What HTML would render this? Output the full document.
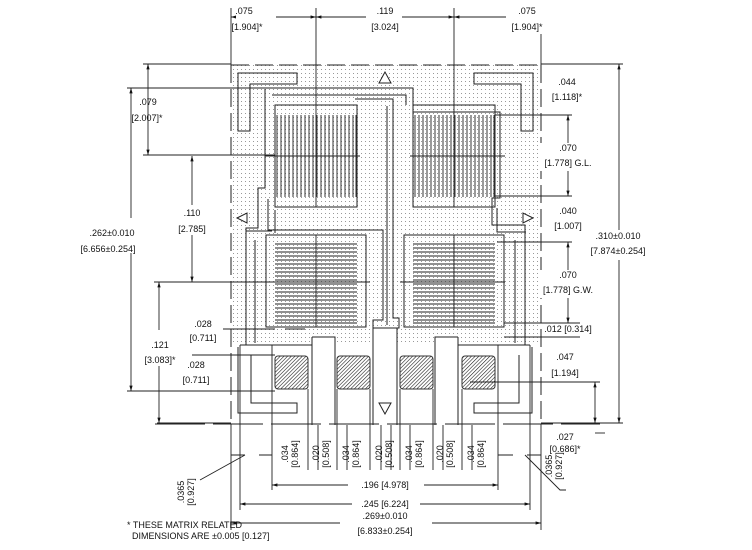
<!DOCTYPE html>
<html><head><meta charset="utf-8"><style>
html,body{margin:0;padding:0;background:#fff}
svg{display:block}
text{font-family:"Liberation Sans",sans-serif;font-size:9px;fill:#111}
</style></head><body>
<svg width="752" height="550" viewBox="0 0 752 550" xmlns="http://www.w3.org/2000/svg">
<defs>
<pattern id="dots" width="4" height="4" patternUnits="userSpaceOnUse"><rect x="1" y="1" width="1" height="1" fill="#999"/></pattern>
<pattern id="hatch" width="2.6" height="2.6" patternUnits="userSpaceOnUse" patternTransform="rotate(45)"><line x1="0" y1="0" x2="0" y2="2.6" stroke="#111" stroke-width="1.1"/></pattern>
<marker id="a" viewBox="0 0 10 10" refX="10" refY="5" markerWidth="6" markerHeight="6" orient="auto-start-reverse"><path d="M0,2 L10,5 L0,8 z" fill="#111"/></marker>
</defs>
<rect x="231" y="65" width="310" height="280" fill="url(#dots)"/>
<g fill="#fff">
<rect x="240" y="345" width="300" height="80"/>
<rect x="312" y="337" width="23" height="10"/>
<rect x="435" y="337" width="23" height="10"/>
<rect x="373" y="328" width="24" height="18"/>
</g>
<g fill="none" stroke="#222" stroke-width="1">
<path d="M312,337 V425 M335,345 V425 M373,328 V425 M397,328 V425 M435,345 V425 M458,337 V425 M312,337 H335 V345 M435,345 V337 H458 M373,328 H397 M240,345 H312 M458,345 H530"/>
<path d="M231,65 V424 M541,65 V424 M231,65 H541" stroke-dasharray="18,6"/>
<path d="M155,424 H600" stroke-dasharray="50,8"/>
<path d="M238,73 H297 V84 H250 V131 H238 Z"/>
<path d="M533,73 H474 V84 H521 V131 H533 Z"/>
<path d="M251,355 V403 H297 V413 H238 V347"/>
<path d="M519,355 V403 H474 V413 H532 V347"/>
<rect x="275" y="105" width="82" height="102"/>
<rect x="413" y="105" width="82" height="102"/>
<rect x="266" y="235" width="100" height="92"/>
<rect x="404" y="235" width="100" height="92"/>
<path d="M127,88 H413 V112 H500 V198 H492 V225 H525 V345"/>
<path d="M272,95 H406 V105"/>
<path d="M265,89 V188 H258 V228 H246 V345"/>
<path d="M268,199 V230 H383 V320 H373 V328"/>
<path d="M275,210 V233"/>
<path d="M355,99 H393 V318 H399 V328 H397"/>
<path d="M387,106 V325"/>
<path d="M255,240 V343"/>
<path d="M515,240 V343"/>
<path d="M497,208 V232 H526"/>
<path d="M246,231 H272"/>
</g>
<g stroke="#222" stroke-width="0.9">
<path d="M277,115V197M281,115V197M285,115V197M289,115V197M293,115V197M297,115V197M301,115V197M305,115V197M309,115V197M313,115V197M317,115V197M321,115V197M325,115V197M329,115V197M333,115V197M337,115V197M341,115V197M345,115V197M349,115V197M353,115V197M356,115V197"/>
<path d="M415,115V197M419,115V197M423,115V197M427,115V197M431,115V197M435,115V197M439,115V197M443,115V197M447,115V197M451,115V197M455,115V197M459,115V197M463,115V197M467,115V197M471,115V197M475,115V197M479,115V197M483,115V197M487,115V197M491,115V197M494,115V197"/>
<path d="M275,244H357M275,248H357M275,252H357M275,256H357M275,260H357M275,264H357M275,268H357M275,272H357M275,276H357M275,280H357M275,284H357M275,288H357M275,292H357M275,296H357M275,300H357M275,304H357M275,308H357M275,312H357M275,316H357M275,320H357M275,323H357"/>
<path d="M413,244H495M413,248H495M413,252H495M413,256H495M413,260H495M413,264H495M413,268H495M413,272H495M413,276H495M413,280H495M413,284H495M413,288H495M413,292H495M413,296H495M413,300H495M413,304H495M413,308H495M413,312H495M413,316H495M413,320H495M413,323H495"/>
</g>
<g fill="url(#hatch)" stroke="#333">
<rect x="275" y="356" width="33" height="33" rx="3"/>
<rect x="337" y="356" width="33" height="33" rx="3"/>
<rect x="400" y="356" width="33" height="33" rx="3"/>
<rect x="462" y="356" width="33" height="33" rx="3"/>
</g>
<g fill="#fff" stroke="#222">
<path d="M385,72 L379,83 H391 Z"/>
<path d="M385,414 L379,403 H391 Z"/>
<path d="M237,218 L247,213 V223 Z"/>
<path d="M533,218 L523,213 V223 Z"/>
</g>
<g stroke="#222" stroke-width="0.9" fill="none">
<path d="M316,8 V207 M454,8 V207 M316,235 V327 M454,235 V327"/>
<path d="M265,156 H360 M410,156 H505 M270,282 H370 M400,282 H505"/>
<path d="M231,8 V65 M541,8 V65"/>
<path d="M143,64 H231 M143,155 H275 M154,282 H270 M223,329 H275 M192,355 H275 M127,391 H275 M157,423 H231"/>
<path d="M541,64 H623 M495,115 H572 M495,196 H572 M497,242 H572 M504,323 H580 M504,337 H580 M470,382 H600 M541,423 H623"/>
<path d="M272,345 V470 M308,389 V470 M318,425 V470 M337,389 V470 M347,425 V470 M370,389 V470 M381,425 V470 M391,425 V470 M400,389 V470 M410,425 V470 M433,389 V470 M443,425 V470 M462,389 V470 M472,425 V470 M498,345 V470"/>
<path d="M240,345 V510 M231,424 V530 M530,345 V510 M541,424 V530 M272,470 V490 M498,470 V490"/>
</g>
<g stroke="#222" stroke-width="0.9" fill="none" marker-start="url(#a)" marker-end="url(#a)">
<path d="M231,17 H316"/><path d="M316,17 H454"/><path d="M454,17 H541"/>
<path d="M148,64 V155"/><path d="M131,88 V391"/><path d="M192,156 V282"/><path d="M159,282 V423"/>
<path d="M619,64 V423"/><path d="M568,115 V196"/><path d="M568,242 V323"/><path d="M595,382 V423"/>
<path d="M272,485 H498"/><path d="M240,504 H530"/><path d="M231,523 H541"/>
</g>
<g fill="#fff"><rect x="150" y="96" width="30" height="30"/><rect x="120" y="218" width="50" height="35"/><rect x="180" y="205" width="30" height="30"/><rect x="140" y="330" width="40" height="36"/>
<rect x="540" y="143" width="56" height="28"/><rect x="540" y="270" width="56" height="28"/><rect x="590" y="230" width="60" height="30"/>
<rect x="348" y="478" width="76" height="12"/><rect x="352" y="497" width="68" height="12"/><rect x="340" y="516" width="92" height="14"/>
<rect x="236" y="6" width="40" height="28"/><rect x="366" y="6" width="36" height="28"/><rect x="506" y="6" width="40" height="28"/></g>
<g stroke="#222" stroke-width="0.9" fill="none">
<path d="M231,455 H245 M259,455 H272 M498,455 H513 M527,455 H541"/>
<path d="M245,455 L200,480 M525,455 L560,490 H566"/>
<path d="M285,329 H305"/>
<path d="M605,433 H595"/>
</g>
<g text-anchor="middle">
<text x="244" y="14">.075</text><text x="247" y="30">[1.904]*</text>
<text x="385" y="14">.119</text><text x="385" y="30">[3.024]</text>
<text x="527" y="14">.075</text><text x="527" y="30">[1.904]*</text>
<text x="148" y="105">.079</text><text x="147" y="121">[2.007]*</text>
<text x="112" y="236">.262±0.010</text><text x="108" y="252">[6.656±0.254]</text>
<text x="192" y="216">.110</text><text x="192" y="232">[2.785]</text>
<text x="160" y="348">.121</text><text x="160" y="363">[3.083]*</text>
<text x="203" y="327">.028</text><text x="203" y="341">[0.711]</text>
<text x="196" y="368">.028</text><text x="196" y="383">[0.711]</text>
<text x="567" y="85">.044</text><text x="567" y="100">[1.118]*</text>
<text x="568" y="151">.070</text><text x="568" y="166">[1.778] G.L.</text>
<text x="568" y="214">.040</text><text x="568" y="229">[1.007]</text>
<text x="618" y="239">.310±0.010</text><text x="618" y="254">[7.874±0.254]</text>
<text x="568" y="278">.070</text><text x="568" y="293">[1.778] G.W.</text>
<text x="568" y="332">.012 [0.314]</text>
<text x="565" y="360">.047</text><text x="565" y="376">[1.194]</text>
<text x="565" y="440">.027</text><text x="565" y="452">[0.686]*</text>
<text x="385" y="488">.196 [4.978]</text>
<text x="385" y="507">.245 [6.224]</text>
<text x="385" y="519">.269±0.010</text>
<text x="385" y="534">[6.833±0.254]</text>
</g>
<g>
<text transform="translate(288,454) rotate(-90)" text-anchor="middle">.034</text>
<text transform="translate(298,454) rotate(-90)" text-anchor="middle">[0.864]</text>
<text transform="translate(319,454) rotate(-90)" text-anchor="middle">.020</text>
<text transform="translate(329,454) rotate(-90)" text-anchor="middle">[0.508]</text>
<text transform="translate(349,454) rotate(-90)" text-anchor="middle">.034</text>
<text transform="translate(359,454) rotate(-90)" text-anchor="middle">[0.864]</text>
<text transform="translate(382,454) rotate(-90)" text-anchor="middle">.020</text>
<text transform="translate(392,454) rotate(-90)" text-anchor="middle">[0.508]</text>
<text transform="translate(412,454) rotate(-90)" text-anchor="middle">.034</text>
<text transform="translate(422,454) rotate(-90)" text-anchor="middle">[0.864]</text>
<text transform="translate(443,454) rotate(-90)" text-anchor="middle">.020</text>
<text transform="translate(453,454) rotate(-90)" text-anchor="middle">[0.508]</text>
<text transform="translate(474,454) rotate(-90)" text-anchor="middle">.034</text>
<text transform="translate(484,454) rotate(-90)" text-anchor="middle">[0.864]</text>
<text transform="translate(184,492) rotate(-90)" text-anchor="middle">.0365</text>
<text transform="translate(194,492) rotate(-90)" text-anchor="middle">[0.927]</text>
<text transform="translate(552,466) rotate(-90)" text-anchor="middle">.0365</text>
<text transform="translate(562,466) rotate(-90)" text-anchor="middle">[0.927]</text>
<text x="127" y="528">* THESE MATRIX RELATED</text>
<text x="132" y="539">DIMENSIONS ARE ±0.005 [0.127]</text>
</g>
</svg>
</body></html>
